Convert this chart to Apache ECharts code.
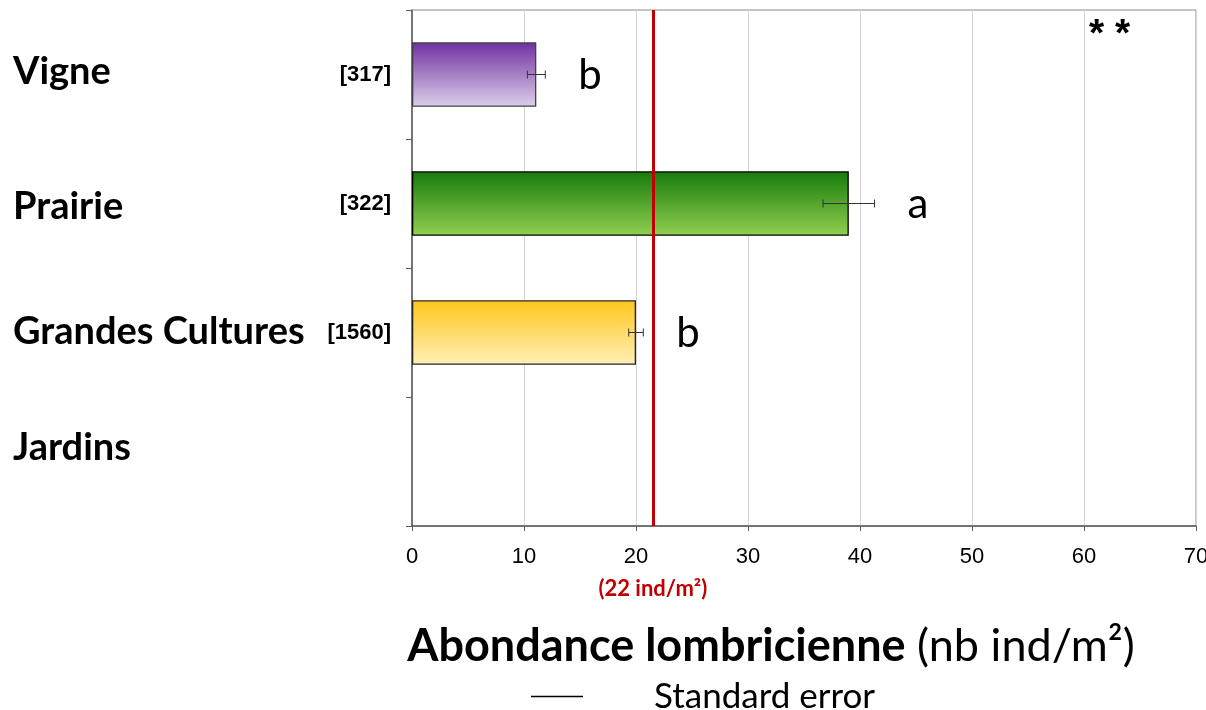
<!DOCTYPE html>
<html><head><meta charset="utf-8">
<script src="https://cdn.jsdelivr.net/npm/echarts@6/dist/echarts.min.js"></script>
<style>html,body{margin:0;padding:0;background:#fff}#c{width:1206px;height:710px}</style>
</head><body><div id="c"></div>
<script>
const categories = ['Vigne', 'Prairie', 'Grandes Cultures', 'Jardins'];
const counts = ['[317]', '[322]', '[1560]', ''];
const values = [11.1, 39.0, 20.0, null];
const errors = [0.8, 2.3, 0.65, null];
const letters = ['b', 'a', 'b', ''];
const meanValue = 21.5;
const meanLabel = '(22 ind/m²)';
const significance = '**';
const axisTitleBold = 'Abondance lombricienne';
const axisTitleUnit = '(nb ind/m²)';
const legendName = 'Standard error';

const barColors = [['#7030A0', '#DCD0EA'], ['#177A0B', '#92D050'], ['#FFC61A', '#FFF0B8']];
const barBorders = ['#404040', '#000000', '#262626'];
const labelPads = [[0, 0, 6, 0], [6, 0, 0, 0], [0, 0, 2, 0], [0, 0, 28, 0]];

const narrow = '"Liberation Sans Narrow", "Liberation Sans", Arial, sans-serif';
const calib = 'Lato, "Open Sans", sans-serif';

const chart = echarts.init(document.getElementById('c'));

const barData = values.map((v, i) => v == null ? null : {
  value: v,
  itemStyle: {
    color: new echarts.graphic.LinearGradient(0, 0, 0, 1, [
      { offset: 0, color: barColors[i][0] },
      { offset: 1, color: barColors[i][1] }
    ]),
    borderColor: barBorders[i],
    borderWidth: 1.3
  }
});

const errData = values.map((v, i) => v == null ? null : [i, v, errors[i]]).filter(d => d);

const rich = {
  c: { width: 73, align: 'right', fontSize: 22, fontWeight: 'bold', fontFamily: narrow, color: '#000' }
};
labelPads.forEach((p, i) => {
  rich['n' + i] = { width: 305, align: 'left', fontSize: 38, fontWeight: 'bold', fontFamily: calib, color: '#000', padding: p };
});

chart.setOption({
  animation: false,
  title: {
    text: significance.split('').join(' '), left: 1084, top: 11,
    textStyle: { fontSize: 39, fontWeight: 'bold', fontFamily: '"Liberation Sans", Arial, sans-serif', color: '#000' }
  },
  legend: {
    data: [{ name: legendName, icon: 'rect', itemStyle: { color: '#000' } }],
    left: 526, top: 674,
    itemWidth: 52, itemHeight: 1.5,
    textStyle: { fontSize: 35, fontFamily: calib, color: '#000', padding: [0, 0, 0, 66] },
    selectedMode: false
  },
  grid: {
    left: 412, right: 10, top: 10, bottom: 184,
    containLabel: false, outerBoundsMode: 'none',
    show: true, borderColor: '#8c8c8c', borderWidth: 1
  },
  xAxis: {
    type: 'value', min: 0, max: 70, interval: 10,
    axisLine: { show: true, lineStyle: { color: '#595959', width: 1.5 } },
    axisTick: { show: true, length: 5, lineStyle: { color: '#595959' } },
    splitLine: { show: true, lineStyle: { color: '#D4D4D4' } },
    axisLabel: { fontSize: 22, fontFamily: narrow, color: '#000', margin: 20, hideOverlap: false },
    name: '{b|' + axisTitleBold + '}{r| ' + axisTitleUnit + '}',
    nameLocation: 'middle', nameGap: 98,
    nameTextStyle: {
      padding: [0, 66, 0, 0],
      rich: {
        b: { fontSize: 45, fontWeight: 'bold', fontFamily: calib, color: '#000' },
        r: { fontSize: 45, fontFamily: calib, color: '#000' }
      }
    }
  },
  yAxis: {
    type: 'category', inverse: true, data: categories,
    axisLine: { show: true, lineStyle: { color: '#595959', width: 1.5 } },
    axisTick: { show: true, length: 6, lineStyle: { color: '#595959' } },
    axisLabel: {
      margin: 21,
      formatter: (val, idx) => '{n' + idx + '|' + val + '}{c|' + counts[idx] + '}',
      rich: rich
    }
  },
  series: [
    {
      type: 'bar', data: barData, barWidth: '50%',
      markLine: {
        silent: true, symbol: 'none',
        lineStyle: { color: '#C00000', width: 3, type: 'solid' },
        label: {
          show: true, position: 'end', formatter: meanLabel, distance: 52,
          color: '#C00000', fontWeight: 'bold', fontSize: 22, fontFamily: calib
        },
        data: [{ xAxis: meanValue }]
      }
    },
    {
      type: 'custom', name: legendName,
      itemStyle: { color: '#333' },
      encode: { x: 1, y: 0 },
      data: errData,
      z: 5,
      renderItem: (params, api) => {
        const cat = api.value(0), v = api.value(1), e = api.value(2);
        const lo = api.coord([v - e, cat]);
        const hi = api.coord([v + e, cat]);
        const cap = 4;
        const st = { stroke: '#333', lineWidth: 1 };
        return {
          type: 'group',
          children: [
            { type: 'line', shape: { x1: lo[0], y1: lo[1], x2: hi[0], y2: hi[1] }, style: st },
            { type: 'line', shape: { x1: lo[0], y1: lo[1] - cap, x2: lo[0], y2: lo[1] + cap }, style: st },
            { type: 'line', shape: { x1: hi[0], y1: hi[1] - cap, x2: hi[0], y2: hi[1] + cap }, style: st },
            { type: 'text', x: hi[0] + 33, y: hi[1] + 1,
              style: { text: letters[cat], fill: '#000', fontSize: 42, fontFamily: calib, verticalAlign: 'middle', align: 'left' } }
          ]
        };
      }
    }
  ]
});
</script></body></html>
